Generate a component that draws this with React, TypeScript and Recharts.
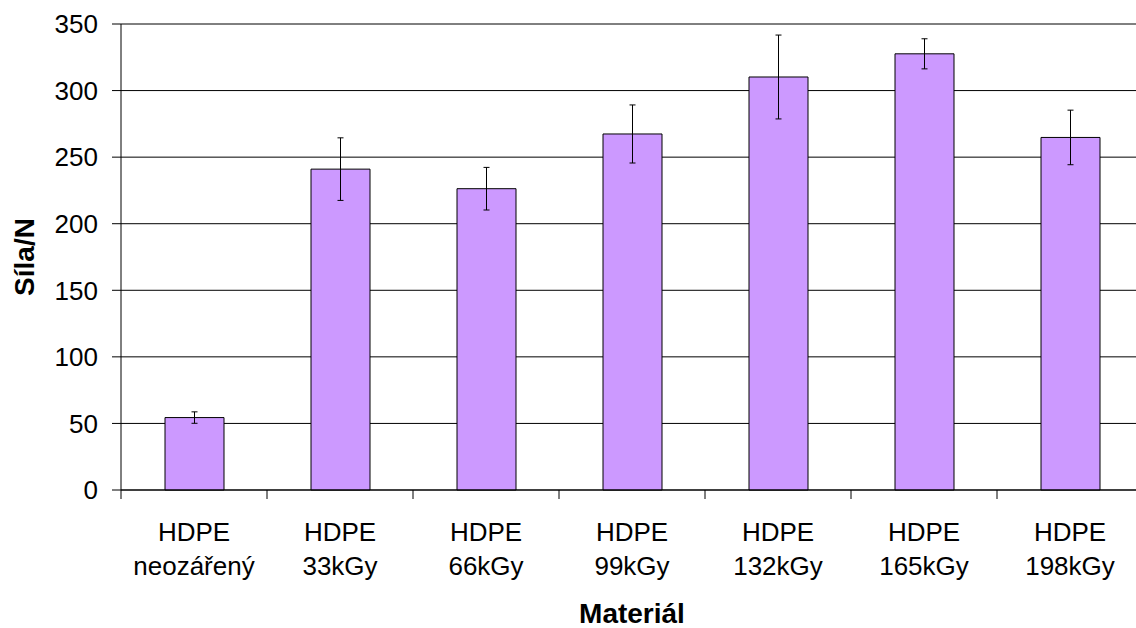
import { BarChart, Bar, XAxis, YAxis, CartesianGrid, ErrorBar } from "recharts";

const FONT = '"Liberation Sans", Arial, sans-serif';

// Kategorie (2 řádky popisku) a naměřené síly se směrodatnou odchylkou
const materials = ["neozářený", "33kGy", "66kGy", "99kGy", "132kGy", "165kGy", "198kGy"];
const force = [54.4, 241, 226.3, 267.4, 310.2, 327.6, 264.8];
const forceErr = [4.3, 23.5, 16, 21.8, 31.5, 11.3, 20.5];
const yTicks = [0, 50, 100, 150, 200, 250, 300, 350];

const data = materials.map((m, i) => ({
    name: m,
    sila: force[i],
    err: forceErr[i],
}));

const BAND = 146; // šířka kategorie při šířce grafu 1150

function MaterialTick(props: any) {
    const { x, y, payload } = props;
    const half = payload?.offset ?? BAND / 2;
    return (
        <g>
            <line x1={x - half} x2={x - half} y1={y} y2={y + 9} stroke="#000" strokeWidth={1} />
            <text x={x} y={y + 51} textAnchor="middle" fontSize={26} fontFamily={FONT} fill="#000">
                HDPE
            </text>
            <text x={x} y={y + 85} textAnchor="middle" fontSize={26} fontFamily={FONT} fill="#000">
                {payload.value}
            </text>
        </g>
    );
}

function XTitle(props: any) {
    const vb = props.viewBox ?? { x: 121, y: 490, width: 1022, height: 138 };
    return (
        <text
            x={vb.x + vb.width / 2}
            y={vb.y + 133}
            textAnchor="middle"
            fontSize={28}
            fontWeight="bold"
            fontFamily={FONT}
            fill="#000"
        >
            Materiál
        </text>
    );
}

function YTitle(props: any) {
    const vb = props.viewBox ?? { x: 0, y: 24, width: 121, height: 466 };
    const cx = vb.x + 24;
    const cy = vb.y + vb.height / 2;
    return (
        <text
            x={cx}
            y={cy}
            transform={`rotate(-90, ${cx}, ${cy})`}
            textAnchor="middle"
            dominantBaseline="central"
            fontSize={28}
            fontWeight="bold"
            fontFamily={FONT}
            fill="#000"
        >
            Síla/N
        </text>
    );
}

export default function App() {
    return (
        <div
            style={{
                position: "fixed",
                left: 0,
                top: 0,
                width: 1136,
                height: 628,
                overflow: "hidden",
                background: "#fff",
                fontFamily: FONT,
            }}
        >
            <BarChart width={1150} height={628} data={data} margin={{ top: 24, right: 7, left: 0, bottom: 0 }}>
                <CartesianGrid vertical={false} stroke="#000" strokeWidth={1} />
                <XAxis
                    dataKey="name"
                    height={138}
                    tickLine={false}
                    tickSize={0}
                    tickMargin={0}
                    axisLine={{ stroke: "#000", strokeWidth: 1 }}
                    tick={<MaterialTick />}
                    interval={0}
                    label={<XTitle />}
                />
                <YAxis
                    width={121}
                    domain={[0, 350]}
                    ticks={yTicks}
                    interval={0}
                    tickSize={9}
                    tickMargin={14}
                    axisLine={{ stroke: "#000", strokeWidth: 1 }}
                    tickLine={{ stroke: "#000", strokeWidth: 1 }}
                    tick={{ fontSize: 26, fill: "#000", fontFamily: FONT }}
                    label={<YTitle />}
                />
                <Bar dataKey="sila" fill="#CC99FF" stroke="#000" strokeWidth={1} barSize={59} isAnimationActive={false}>
                    <ErrorBar dataKey="err" width={3} stroke="#000" strokeWidth={1} isAnimationActive={false} />
                </Bar>
            </BarChart>
        </div>
    );
}
